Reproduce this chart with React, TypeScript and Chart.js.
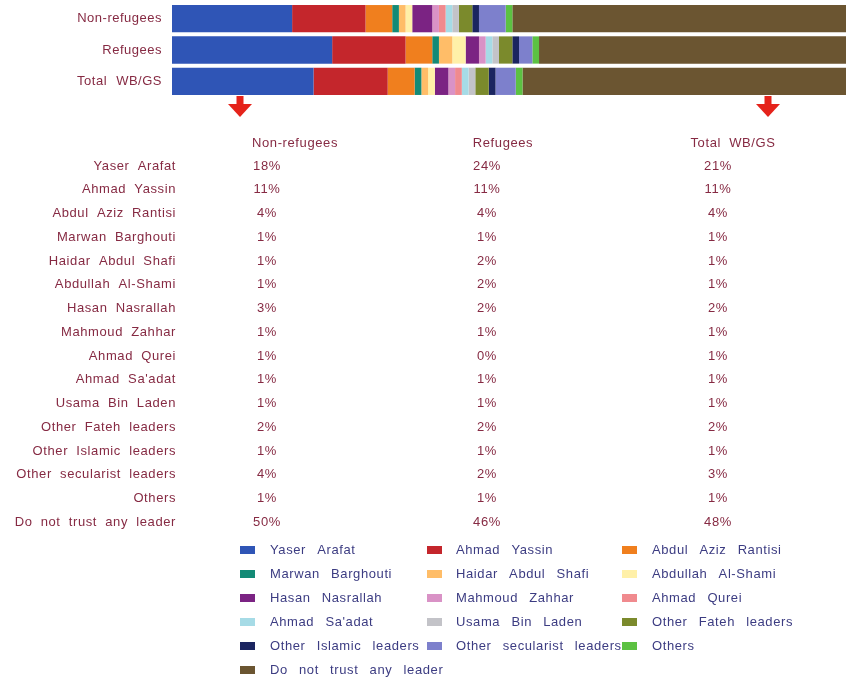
import React, { useEffect, useRef } from 'react';
import { Chart, registerables } from 'chart.js';

Chart.register(...registerables);

const groups = ['Non-refugees', 'Refugees', 'Total WB/GS'];
const leaders = [
  'Yaser Arafat', 'Ahmad Yassin', 'Abdul Aziz Rantisi', 'Marwan Barghouti',
  'Haidar Abdul Shafi', 'Abdullah Al-Shami', 'Hasan Nasrallah', 'Mahmoud Zahhar',
  'Ahmad Qurei', "Ahmad Sa'adat", 'Usama Bin Laden', 'Other Fateh leaders',
  'Other Islamic leaders', 'Other secularist leaders', 'Others', 'Do not trust any leader',
];
const nonRefugees = [18, 11, 4, 1, 1, 1, 3, 1, 1, 1, 1, 2, 1, 4, 1, 50];
const refugees = [24, 11, 4, 1, 2, 2, 2, 1, 0, 1, 1, 2, 1, 2, 1, 46];
const totalWBGS = [21, 11, 4, 1, 1, 1, 2, 1, 1, 1, 1, 2, 1, 3, 1, 48];
const colors = [
  '#2f55b6', '#c4262c', '#f07f1e', '#138a76', '#ffbd68', '#fff0a8', '#7b2383', '#d992c6',
  '#f08a8e', '#a6dbe6', '#c3c3c8', '#7b8a2c', '#1b2560', '#7d80cc', '#5cc142', '#6b5531',
];

const FONT = "'Liberation Sans', Arial, sans-serif";
const TABLE_COLOR = '#862a43';
const LEGEND_COLOR = '#3c3c82';

const sum = (a: number[]) => a.reduce((s, v) => s + v, 0);
const series = [nonRefugees, refugees, totalWBGS];
const sums = series.map(sum);

function drawArrow(ctx: CanvasRenderingContext2D, x: number, y0: number, y1: number) {
  ctx.fillStyle = '#e5231b';
  ctx.fillRect(x - 3.5, y0, 7, 9);
  ctx.beginPath();
  ctx.moveTo(x - 12, y0 + 8);
  ctx.lineTo(x + 12, y0 + 8);
  ctx.lineTo(x, y1);
  ctx.closePath();
  ctx.fill();
}

const overlay = {
  id: 'overlay',
  beforeDraw(chart: any) {
    const c = chart.ctx as any;
    c.wordSpacing = '5px';
    c.letterSpacing = '0.5px';
  },
  afterDraw(chart: any) {
    const ctx = chart.ctx as CanvasRenderingContext2D;
    ctx.save();
    (ctx as any).wordSpacing = '4px';
    (ctx as any).letterSpacing = '0.6px';
    drawArrow(ctx, 240, 96, 117);
    drawArrow(ctx, 768, 96, 117);

    ctx.font = `13px ${FONT}`;
    ctx.textBaseline = 'middle';
    ctx.fillStyle = TABLE_COLOR;
    const headX = [295, 503, 733];
    const valX = [267, 487, 718];
    ctx.textAlign = 'center';
    groups.forEach((g, i) => ctx.fillText(g, headX[i], 143));
    leaders.forEach((name, r) => {
      const y = 166 + r * 23.75;
      ctx.textAlign = 'right';
      ctx.fillText(name, 176, y);
      ctx.textAlign = 'center';
      series.forEach((s, c) => ctx.fillText(`${s[r]}%`, valX[c], y));
    });

    // legend
    (ctx as any).wordSpacing = '7px';
    const swX = [240, 427, 622];
    const txX = [270, 456, 652];
    ctx.textAlign = 'left';
    chart.data.datasets.forEach((ds: any, i: number) => {
      const col = i % 3;
      const row = Math.floor(i / 3);
      const y = 550 + row * 24;
      ctx.fillStyle = ds.backgroundColor;
      ctx.fillRect(swX[col], y - 4, 15, 8);
      ctx.fillStyle = LEGEND_COLOR;
      ctx.fillText(ds.label, txX[col], y);
    });
    ctx.restore();
  },
};

export default function App() {
  const ref = useRef<HTMLCanvasElement>(null);
  useEffect(() => {
    document.body.style.margin = '0';
    const chart = new Chart(ref.current!, {
      type: 'bar',
      data: {
        labels: groups,
        datasets: leaders.map((name, i) => ({
          label: name,
          data: series.map((s, g) => (s[i] / sums[g]) * 100),
          backgroundColor: colors[i],
          borderWidth: 0,
          barPercentage: 0.87,
          categoryPercentage: 1,
        })),
      },
      options: {
        indexAxis: 'y',
        responsive: false,
        animation: false,
        devicePixelRatio: 1,
        layout: { padding: { top: 3, bottom: 581, left: 0, right: 0 } },
        plugins: { legend: { display: false }, tooltip: { enabled: false } },
        scales: {
          x: { stacked: true, min: 0, max: 100, display: false },
          y: {
            stacked: true,
            grid: { display: false, drawTicks: false },
            border: { display: false },
            ticks: { color: TABLE_COLOR, font: { size: 13, family: FONT }, padding: 10 },
            afterFit: (scale: any) => {
              scale.width = 172;
              scale.paddingTop = 0;
              scale.paddingBottom = 0;
            },
          },
        },
      },
      plugins: [overlay],
    });
    return () => chart.destroy();
  }, []);
  return <canvas ref={ref} width={846} height={678} style={{ display: 'block' }} />;
}
